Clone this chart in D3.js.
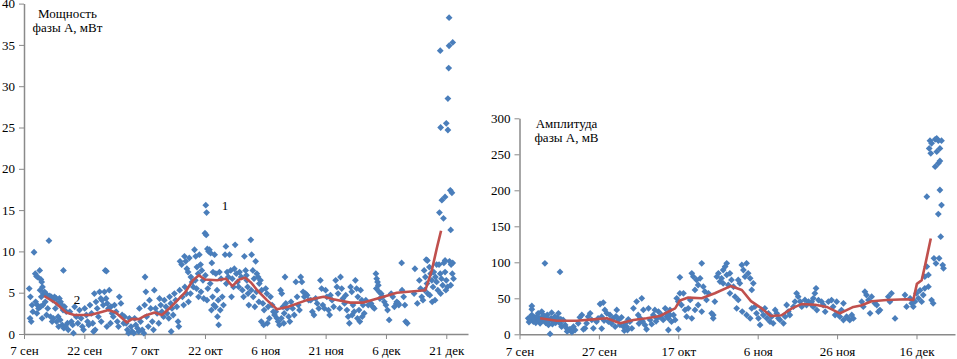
<!DOCTYPE html>
<html><head><meta charset="utf-8">
<script src="https://cdn.jsdelivr.net/npm/d3@7/dist/d3.min.js"></script>
<style>
body{margin:0;background:#fff}
svg{display:block}
svg text{font-family:"Liberation Serif","Times New Roman","DejaVu Serif","Noto Serif",Times,serif !important;fill:#000}
</style>
</head><body>
<svg id="c" width="957" height="359"></svg>
<script>
// ---- tick definitions (day offset from 7 Sep) ----
const powerXTicks=[0,15,30,45,60,75,90,105];
const powerXLabels=["7 сен","22 сен","7 окт","22 окт","6 ноя","21 ноя","6 дек","21 дек"];
const powerYTicks=[0,5,10,15,20,25,30,35,40];
const ampXTicks=[0,20,40,60,80,100];
const ampXLabels=["7 сен","27 сен","17 окт","6 ноя","26 ноя","16 дек"];
const ampYTicks=[0,50,100,150,200,250,300];
const powerTitle=["Мощность","фазы А, мВт"];
const ampTitle=["Амплитуда","фазы А, мВ"];
const powerNotes=[["1",50.0,15.0],["2",13.2,3.6]];

// ---- left: power of phase A, [day, mW] ----
const powerPoints=[
[1.3,5.5],[1.6,4.5],[2.0,3.5],[1.5,1.9],[2.2,2.7],[1.8,1.5],[2.5,9.9],
[2.8,7.3],[3.1,7.0],[3.4,6.9],[2.9,3.9],[3.3,3.5],[3.6,3.1],[3.2,2.5],
[3.9,7.7],[4.2,6.6],[4.4,6.3],[4.6,5.7],[4.0,5.3],[4.8,4.9],[4.3,4.5],[4.7,3.5],[4.1,3.3],[4.5,1.9],
[5.1,5.1],[5.4,4.9],[5.7,4.7],[5.3,3.9],[5.9,3.1],[5.6,2.3],[6.2,11.3],
[6.4,4.6],[6.8,4.5],[7.2,4.1],[6.6,2.1],[7.0,1.5],[7.3,1.9],
[7.6,4.5],[8.0,4.3],[8.3,3.7],[7.8,3.1],[8.5,2.1],[8.1,1.5],[8.6,0.9],
[8.8,4.3],[9.1,3.9],[9.4,3.5],[9.7,2.9],[9.0,1.7],[9.5,1.1],[9.9,0.7],[9.8,7.7],
[10.1,3.3],[10.5,2.7],[10.8,1.3],[10.3,0.9],[11.0,0.5],
[11.4,2.7],[11.8,1.5],[12.1,1.1],[12.3,0.1],
[12.6,3.3],[13.0,2.1],[13.4,1.3],
[13.8,2.9],[14.2,1.9],[14.5,0.9],[14.8,0.5],
[15.1,3.1],[15.5,2.3],[15.8,1.5],[16.1,1.1],
[16.4,3.5],[16.8,2.5],[17.1,1.3],[17.3,0.3],
[17.5,4.9],[17.9,3.9],[18.2,3.1],[18.5,2.1],[17.7,0.5],
[18.8,5.1],[19.1,4.3],[19.4,4.1],[19.7,3.5],[19.2,1.5],
[20.2,7.7],[20.5,7.6],[20.0,5.1],[20.4,4.3],[20.7,3.7],[21.0,3.1],[20.6,0.9],
[21.2,5.3],[21.6,3.3],[21.9,2.5],[22.2,2.1],[21.5,1.3],
[22.5,3.5],[22.9,2.7],[23.2,1.5],[23.5,0.9],
[23.7,4.5],[24.1,3.7],[24.4,2.3],[24.8,1.3],
[25.0,2.1],[25.4,1.3],[25.7,0.5],[26.0,0.1],
[26.2,1.9],[26.6,0.9],[26.9,0.3],[27.3,0.1],
[27.5,1.9],[27.8,1.1],[28.2,0.7],[28.5,0.3],
[28.7,3.1],[29.0,1.5],[29.4,0.5],[29.8,0.1],
[30.1,6.9],[30.3,5.1],[30.0,3.5],[30.5,2.1],[30.9,0.9],
[31.2,4.1],[31.5,3.1],[31.9,1.5],[32.2,0.5],
[32.4,5.3],[32.7,3.1],[33.1,2.5],[33.5,1.3],
[33.7,4.3],[34.0,3.5],[34.3,2.7],[34.7,2.1],
[34.9,4.1],[35.3,3.3],[35.6,2.5],[36.0,1.9],
[36.2,4.5],[36.5,3.7],[36.8,3.1],[37.1,2.3],[36.6,0.3],
[37.4,4.9],[37.7,4.1],[38.0,3.3],[38.3,1.5],[38.5,0.9],
[38.8,8.8],[39.2,8.4],[38.7,5.3],[39.4,4.5],[39.7,3.5],
[39.9,9.4],[40.2,8.8],[40.5,7.9],[40.8,7.5],[40.0,5.7],[40.4,4.9],[40.9,3.9],
[41.1,9.2],[41.5,6.9],[41.8,6.3],[42.1,5.7],[41.4,4.9],
[42.4,10.2],[42.7,9.4],[43.0,8.1],[43.3,7.3],[42.6,6.5],[42.9,5.5],[43.4,4.5],
[43.6,9.6],[43.9,8.4],[44.2,7.7],[44.5,6.5],[44.0,5.1],[44.7,4.3],
[45.2,15.6],[45.4,14.7],[45.0,12.2],[45.3,12.0],[45.6,10.3],[45.9,10.0],[45.1,7.1],[45.7,5.5],[45.5,4.1],
[46.1,10.2],[46.4,9.8],[46.7,8.6],[47.0,7.5],[46.3,6.1],[46.9,4.5],[47.2,3.5],[46.6,2.9],
[47.4,9.6],[47.7,7.3],[48.0,5.3],[48.3,4.1],[47.6,3.3],[48.1,2.1],[48.4,1.1],
[48.6,7.5],[49.0,6.7],[49.3,4.5],[49.6,3.5],[48.8,2.9],
[50.2,10.6],[50.0,9.6],[50.5,7.5],[50.8,6.9],[50.3,6.1],
[51.1,9.6],[51.4,7.7],[51.8,6.7],[52.1,5.7],[51.6,4.5],
[52.5,10.8],[52.3,7.9],[52.8,7.3],[53.1,6.3],[53.4,5.7],
[53.6,7.5],[54.0,6.9],[54.3,5.3],[54.6,4.5],
[54.8,9.4],[55.1,7.7],[55.4,6.5],[55.7,4.9],[55.9,3.5],[55.3,7.1],[55.6,5.7],
[56.4,11.4],[56.6,9.6],[56.9,7.7],[57.2,6.7],[56.5,5.3],[57.0,4.5],[57.4,3.3],
[57.6,8.8],[57.9,7.3],[58.2,6.9],[58.5,6.1],[57.8,5.1],[58.4,3.9],
[58.8,6.5],[59.1,5.3],[59.4,3.7],[59.7,2.9],[59.0,1.5],[59.6,1.1],
[60.1,5.5],[60.4,4.9],[60.7,3.3],[61.0,1.9],[60.5,1.3],
[61.3,4.5],[61.7,3.5],[62.0,2.7],[62.3,2.3],
[62.6,2.7],[62.9,1.9],[63.2,1.5],[63.5,1.1],
[63.8,5.3],[64.1,4.9],[64.4,3.3],[64.7,2.5],[64.0,1.9],[64.6,1.3],[64.9,6.9],
[65.1,3.7],[65.4,3.1],[65.8,2.1],[66.1,1.5],
[66.4,3.9],[66.8,3.1],[67.2,2.3],
[67.6,6.3],[67.9,4.5],[68.2,3.5],[68.5,2.9],
[68.8,6.9],[69.1,6.3],[69.4,5.1],[69.7,4.5],
[70.0,4.9],[70.4,4.7],[70.8,4.1],
[71.3,4.1],[71.7,2.7],[72.1,2.3],
[72.5,4.3],[72.9,3.7],[73.3,3.1],
[73.7,6.5],[74.0,5.5],[74.3,3.5],[74.7,3.1],
[75.0,5.3],[75.3,4.5],[75.7,2.9],[76.0,2.3],
[76.2,4.7],[76.6,4.1],[77.0,3.3],
[77.5,6.5],[77.8,5.7],[78.1,4.9],[78.5,3.1],
[78.7,6.9],[79.0,5.5],[79.3,4.3],[79.7,3.7],
[80.0,4.7],[80.3,2.9],[80.6,2.1],[80.9,1.3],
[81.2,5.7],[81.5,5.1],[81.8,3.5],[82.1,2.7],[81.6,2.3],
[82.4,6.5],[82.7,5.5],[83.0,4.5],[83.3,2.9],[82.9,1.9],[83.5,1.5],
[83.7,5.3],[84.0,4.1],[84.3,3.5],[84.6,2.5],[84.1,2.1],
[85.0,4.1],[85.6,3.5],
[86.3,3.7],[86.7,3.3],[87.1,3.1],
[87.5,7.3],[87.7,6.7],[87.9,6.3],[88.1,5.9],[87.6,5.5],[88.3,5.1],[88.5,4.3],
[88.8,4.9],[89.2,4.5],[89.6,3.9],
[90.0,3.5],[90.4,2.9],[90.8,1.7],
[91.3,4.9],[91.7,4.5],[92.1,3.3],
[92.6,3.7],[93.2,3.5],[92.7,3.9],[93.1,3.7],
[93.9,8.6],[94.0,5.3],[94.4,4.5],[94.7,3.5],
[94.9,1.5],[95.3,1.3],
[97.2,7.9],[97.0,4.9],[97.8,3.7],
[98.3,6.5],[98.6,5.5],[98.9,4.5],[99.2,4.1],
[100.0,9.0],[99.5,7.7],[99.8,6.9],[100.2,6.1],[99.6,5.3],[100.4,4.9],[100.3,8.9],
[100.8,8.1],[101.1,7.3],[101.4,6.5],[101.7,5.7],[100.9,4.7],[101.5,3.9],
[101.9,7.5],[102.3,6.9],[102.6,6.3],[102.9,5.3],[102.2,4.1],[102.6,8.4],
[103.2,8.4],[103.5,7.3],[103.8,6.7],[104.1,5.9],[103.6,4.9],
[104.4,8.6],[104.7,7.5],[105.0,6.5],[105.3,5.7],[104.9,5.3],
[105.8,8.8],[106.2,8.4],[106.5,7.3],[106.8,6.7],[106.1,5.9],
[105.7,38.3],[103.5,34.3],[105.7,34.9],[106.6,35.3],[105.6,32.2],[105.4,28.5],
[103.6,25.0],[105.0,25.5],[105.4,24.7],[103.9,16.2],[104.7,16.6],[106.0,17.4],[106.4,17.1],
[103.3,14.7],[104.3,14.0],[106.1,12.6],[104.7,8.9],[106.6,8.6]
];
const powerTrend=[
[5.0,4.6],[8.0,3.7],[10.5,2.6],[12.5,2.3],[16.5,2.3],[19.5,2.7],[21.0,2.9],[22.8,2.6],
[25.6,1.4],[26.8,1.8],[28.6,1.8],[30.0,2.2],[32.5,2.6],[34.3,2.3],[36.8,3.4],[40.0,5.0],
[42.0,6.5],[43.5,7.1],[45.0,6.6],[48.0,6.5],[50.2,6.7],[51.8,5.8],[53.5,6.6],[55.0,6.8],
[56.5,6.2],[58.0,5.3],[60.4,4.1],[62.9,3.0],[65.7,3.3],[70.3,4.1],[74.5,4.5],[76.9,4.2],
[81.1,3.8],[84.4,3.8],[89.4,4.5],[92.7,5.0],[97.7,5.2],[99.8,5.3],[100.6,6.5],[101.4,7.7],
[102.7,10.5],[103.7,12.5]
];

// ---- right: amplitude of phase A, [day, mV] ----
const ampPoints=[
[6.4,98.6],[10.2,86.6],[3.1,39.3],[3.1,34.7],
[2.2,22.2],[2.6,19.9],[3.1,26.8],[3.5,17.6],[3.9,23.6],[4.3,19.9],[4.7,29.2],[5.2,15.3],[5.6,31.5],
[2.4,17],[2.8,24],[3.7,21],[4.1,16],[4.5,25],[5.0,20],[5.4,18],[5.8,24],[6.2,21],[6.6,16],[7.0,27],
[7.5,19],[7.9,22],[8.3,14],[8.7,21],[9.1,16],[9.6,23],[10.0,17],[10.4,21],
[6.0,26.8],[6.4,19.9],[6.8,23.6],[7.3,13],[7.7,0.5],[8.1,30.1],[8.5,17.6],
[8.9,24.5],[9.4,19.9],[9.8,29.2],[10.2,15.3],[10.6,10.6],[11.0,19.9],[11.5,13],[11.9,8.3],
[12.3,6],[12.7,7],[13.6,10.6],[14.0,6],[14.8,15.3],[15.2,23.6],[13.2,3],[12.0,4],
[15.7,26.8],[16.1,7],[16.5,8.3],[16.9,15.3],[17.3,24.5],[17.8,29.2],[18.2,19.9],[18.6,8.3],
[19.4,17.6],[20.3,42.1],[20.7,24.5],[21.1,44],[21.5,33.8],[22.0,29.2],[20.7,7.9],[19.8,22],[21.3,19],
[22.4,17.6],[22.8,26.8],[23.6,22.2],[24.1,10.6],[24.5,33.8],[24.9,19.9],[25.3,13],[23.2,15],[24.3,25],
[25.7,23.6],[26.2,10.6],[26.6,15.3],[27.0,10.6],[27.4,20.8],[27.8,17.6],[28.3,8.3],[28.7,36.1],[26.4,5],[27.2,6],
[29.5,45.4],[29.9,26.8],[30.4,22.2],[30.8,50],[31.2,33.8],[31.6,13],[32.0,7],[30.1,15],[31.0,18],
[32.5,36.1],[32.9,19.9],[33.7,26.8],[34.1,33.8],[34.6,22.2],[35.0,31.5],[33.3,14],[34.4,18],
[35.8,26.8],[36.7,36.1],[37.1,24.5],[37.5,6],[37.9,26.8],[36.2,20],[35.4,24],
[37.1,29.2],[37.5,22.2],[37.9,33.8],[38.3,17.6],[38.8,26.8],[39.2,19.9],[40.0,7],
[39.6,50],[40.0,45.4],[40.4,79.2],[40.8,40.7],[41.3,56.9],[41.7,33.8],[40.4,56.9],
[42.1,24.5],[42.5,36.1],[43.0,47.7],[43.4,84.7],[43.8,80.1],[44.2,61.6],[43.4,22.2],[44.2,33.8],
[44.6,75.5],[45.0,68.5],[45.5,77.8],[45.9,98.6],[46.3,66.2],[46.7,59.3],[45.0,40.7],[45.9,31.5],
[47.1,47.7],[47.6,56.9],[48.4,29.2],[48.8,26.8],[49.2,45.4],[48.8,22.2],
[49.7,80.1],[50.1,84.7],[50.5,73.2],[50.9,77.8],[51.3,70.8],[51.8,94],[52.2,98.6],[51.3,89.3],[52.2,82.4],
[52.6,68.5],[53.0,84.7],[53.4,75.5],[53.9,66.2],[54.3,52.3],[53.0,56.9],
[54.7,36.1],[55.1,75.5],[55.5,70.8],[56.0,96.3],[56.4,89.3],[56.8,80.1],[57.2,98.6],[56.1,31.5],[55.1,47.7],
[57.6,84.7],[58.1,77.8],[58.5,61.6],[58.9,70.8],[57.2,26.8],[58.1,22.2],[58.5,36.1],
[59.3,38.4],[59.7,29.2],[60.2,22.2],[60.6,13],[61.0,33.8],[61.4,26.8],[61.8,36.1],
[62.3,22.2],[62.7,29.2],[63.1,17.6],[63.5,24.5],[63.9,15.3],[64.4,33.8],
[64.8,29.2],[65.2,22.2],[65.6,19.9],[66.5,15.3],[66.9,24.5],
[67.3,40.7],[67.7,31.5],[68.1,26.8],[69.0,38.4],[69.4,45.4],
[69.8,56.9],[70.2,52.3],[70.7,45.4],[71.1,38.4],[71.9,47.7],
[72.3,40.7],[72.8,45.4],[73.6,40.7],[74.0,50],
[73.6,45.3],[74.0,38.3],[74.4,56.9],[74.7,63.8],[74.9,33.7],[75.3,47.6],
[76.1,45.3],[76.5,40.7],[77.0,31.4],[77.8,45.3],[78.6,47.6],
[79.0,38.3],[79.5,26.8],[79.9,45.3],[80.3,29.1],[80.7,24.5],[81.1,33.7],[81.6,43],
[81.6,19.8],[82.4,24.5],[82.8,22.1],[83.2,19.8],[83.7,26.8],[84.1,22.1],
[86.2,45.3],[86.6,38.3],[87.0,59.2],[87.4,54.6],[87.9,47.6],[88.3,29.1],[88.7,52.2],[89.5,43],[90.0,40.7],[90.4,31.4],[90.8,33.7],
[92.9,52.2],[93.3,45.3],[93.7,56.9],[94.6,22.1],
[97.1,54.6],[97.5,38.3],[98.4,50],[98.8,43],[99.2,38.3],[99.6,45.3],
[100.0,56.9],[100.5,50],[100.9,61.1],[101.3,45.3],[101.7,54.6],[102.1,63.8],[102.1,80.1],[103.0,82.4],[102.6,94],
[103.0,66.1],[103.8,47.6],[104.2,43],
[102.6,191.1],[104.7,232.8],[105.5,237.4],[103.4,268.9],[103.8,265.2],[104.7,270.8],[105.1,272.1],[105.5,268.9],[106.3,268.9],
[103.2,258.2],[103.6,251.3],[105.1,253.6],[105.9,258.2],[105.9,240.7],[105.9,200.4],[106.3,179.5],[105.5,167],[106.1,135.6],
[104.4,105.5],[105.7,105.5],[104.9,98.5],[106.6,96.2],[106.8,91.6]
];
const ampTrend=[
[5.2,22.2],[9.4,18.9],[14.4,18.9],[18.6,20.7],[22.0,22.2],[25.3,15.3],[28.7,19.9],[32.0,22.2],
[35.4,25.4],[37.0,30],[39.2,36],[40.4,47],[42.5,51],[45.9,50],[49.2,57],[53.2,67],[56.0,61.6],
[58.3,46],[61.0,36],[63.3,25.4],[66.0,26.4],[68.6,36],[71.0,42],[74.5,41],[77.4,38],[80.7,29],
[84.1,38],[86.0,40],[88.7,46],[92.5,47.6],[97.5,48.6],[99.2,47.6],[100.1,70],[101.3,75],
[102.1,94],[103.6,133]
];

const svg=d3.select("#c");
const AXIS="#8a8a8a", DOT="#4a7ebb", LINE="#c0504d";

function panel(o){
  const g=svg.append("g");
  const x=d3.scaleLinear().domain([0,o.xMax]).range([o.x0,o.x1]);
  const y=d3.scaleLinear().domain([0,o.yMax]).range([o.y0,o.y1]);
  const ax=g.append("g").attr("transform",`translate(0,${o.y0})`)
    .call(d3.axisBottom(x).tickValues(o.xTicks).tickFormat((d,i)=>o.xLabels[i]).tickSize(5).tickSizeOuter(0).tickPadding(7));
  const ay=g.append("g").attr("transform",`translate(${o.x0},0)`)
    .call(d3.axisLeft(y).tickValues(o.yTicks).tickSize(5).tickSizeOuter(0).tickPadding(4));
  [ax,ay].forEach(a=>{
    a.attr("font-family",null).attr("font-size",null);
    a.select(".domain").attr("stroke",AXIS).attr("stroke-width",1.5);
    a.selectAll(".tick line").attr("stroke",AXIS).attr("stroke-width",1);
    a.selectAll("text").style("font-size","13px").attr("fill","#000");
  });
  const r=3.4;
  g.append("g").selectAll("path").data(o.points).join("path")
    .attr("transform",d=>`translate(${x(d[0])},${y(d[1])})`)
    .attr("d",`M0,${-r}L${r},0L0,${r}L${-r},0Z`)
    .attr("fill",DOT);
  g.append("path").datum(o.trend)
    .attr("d",d3.line().x(d=>x(d[0])).y(d=>y(d[1])).curve(d3.curveLinear))
    .attr("fill","none").attr("stroke",LINE).attr("stroke-width",2.6).attr("stroke-linejoin","round");
  const t=g.append("text").attr("text-anchor","middle").style("font-size","13px");
  o.title.forEach((s,i)=>t.append("tspan").attr("x",o.tx).attr("y",o.ty+i*14).text(s));
  (o.notes||[]).forEach(n=>g.append("text").attr("text-anchor","middle").style("font-size","13px")
    .attr("x",x(n[1])).attr("y",y(n[2])).text(n[0]));
}

panel({xMax:110.4,x0:24,x1:468,yMax:40,y0:334,y1:3.6,
  xTicks:powerXTicks,xLabels:powerXLabels,yTicks:powerYTicks,
  points:powerPoints,trend:powerTrend,title:powerTitle,tx:67.5,ty:18,notes:powerNotes});
panel({xMax:109.7,x0:519.5,x1:955,yMax:300,y0:334.3,y1:118.3,
  xTicks:ampXTicks,xLabels:ampXLabels,yTicks:ampYTicks,
  points:ampPoints,trend:ampTrend,title:ampTitle,tx:566.5,ty:128});
</script>
</body></html>
